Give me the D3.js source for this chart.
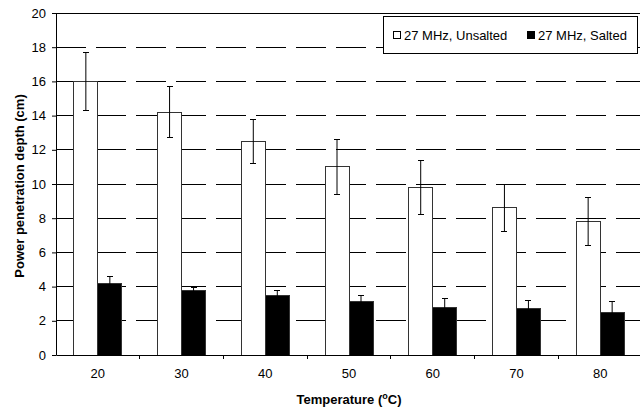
<!DOCTYPE html>
<html>
<head>
<meta charset="utf-8">
<script src="https://cdn.jsdelivr.net/npm/d3@7"></script>
<style>
    body { margin: 0; background: #fff; }
    svg { display: block; font-family: "Liberation Sans", Arial, sans-serif; }
</style>
</head>
<body>
<svg id="chart"></svg>
<script>
// valores
var temperatures = [20, 30, 40, 50, 60, 70, 80];
var seriesNames = ["27 MHz, Unsalted", "27 MHz, Salted"];
var unsalted = [16.0, 14.2, 12.5, 11.0, 9.8, 8.6, 7.8];
var unsaltedErr = [1.7, 1.5, 1.3, 1.6, 1.6, 1.4, 1.4];
var salted = [4.2, 3.8, 3.5, 3.1, 2.8, 2.7, 2.5];
var saltedErr = [0.4, 0.15, 0.3, 0.4, 0.5, 0.5, 0.6];
var yTicks = [0, 2, 4, 6, 8, 10, 12, 14, 16, 18, 20];

var width = 640, height = 409;
var margin = {left: 56, top: 13, bottom: 54};
var plotRight = 642;
var barW = 24;

var svg = d3.select("#chart")
    .attr("width", width)
    .attr("height", height);

var x = d3.scaleBand()
    .domain(temperatures)
    .range([margin.left, plotRight])
    .paddingInner(0)
    .paddingOuter(0);

var x1 = d3.scaleBand()
    .domain(seriesNames)
    .range([x.bandwidth() / 2 - barW, x.bandwidth() / 2 + barW]);

var y = d3.scaleLinear()
    .domain([0, 20])
    .range([height - margin.bottom, margin.top]);

// linhas de grade tracejadas
svg.append("g")
    .selectAll("line")
    .data(yTicks.filter(function(d) { return d > 0 && d < 20; }))
    .enter()
    .append("line")
    .attr("x1", margin.left)
    .attr("x2", plotRight)
    .attr("y1", function(d) { return y(d); })
    .attr("y2", function(d) { return y(d); })
    .attr("stroke", "#000")
    .attr("stroke-width", 1)
    .attr("stroke-dasharray", "30,10")
    .attr("shape-rendering", "crispEdges");

// borda superior
svg.append("line")
    .attr("x1", margin.left).attr("x2", plotRight)
    .attr("y1", y(20)).attr("y2", y(20))
    .attr("stroke", "#000")
    .attr("shape-rendering", "crispEdges");

var rows = temperatures.map(function(t, i) {
    return [
        {t: t, s: seriesNames[0], v: unsalted[i], e: unsaltedErr[i], fill: "#fff"},
        {t: t, s: seriesNames[1], v: salted[i], e: saltedErr[i], fill: "#000"}
    ];
});

var groups = svg.append("g")
    .selectAll("g")
    .data(rows)
    .enter()
    .append("g")
    .attr("transform", function(d) { return "translate(" + x(d[0].t) + ",0)"; });

groups.selectAll("rect")
    .data(function(d) { return d; })
    .enter()
    .append("rect")
    .attr("x", function(d) { return x1(d.s); })
    .attr("width", x1.bandwidth())
    .attr("y", function(d) { return y(d.v); })
    .attr("height", function(d) { return y(0) - y(d.v); })
    .attr("fill", function(d) { return d.fill; })
    .attr("stroke", "#333")
    .attr("stroke-width", 1)
    .attr("shape-rendering", "crispEdges");

// barras de erro
var err = groups.selectAll("g.err")
    .data(function(d) { return d; })
    .enter()
    .append("g")
    .attr("class", "err")
    .attr("transform", function(d) {
        return "translate(" + (x1(d.s) + x1.bandwidth() / 2) + ",0)";
    });

err.append("line")
    .attr("x1", 0).attr("x2", 0)
    .attr("y1", function(d) { return y(d.v + d.e); })
    .attr("y2", function(d) { return y(d.v - d.e); })
    .attr("stroke", "#000");

err.selectAll("line.cap")
    .data(function(d) { return [d.v + d.e, d.v - d.e]; })
    .enter()
    .append("line")
    .attr("class", "cap")
    .attr("x1", -3).attr("x2", 3)
    .attr("y1", function(d) { return y(d); })
    .attr("y2", function(d) { return y(d); })
    .attr("stroke", "#000")
    .attr("shape-rendering", "crispEdges");

// eixo y
var yAxis = svg.append("g")
    .attr("transform", "translate(" + margin.left + ",0)")
    .call(d3.axisLeft(y).tickValues(yTicks).tickSize(4).tickPadding(6).tickSizeOuter(0));
yAxis.selectAll("text").attr("font-size", 13).attr("fill", "#000").style("font-family", "Liberation Sans, Arial, sans-serif");
yAxis.selectAll("line, path").attr("stroke", "#000");

// eixo x
var xAxis = svg.append("g")
    .attr("transform", "translate(0," + y(0) + ")")
    .call(d3.axisBottom(x).tickSize(0).tickPadding(14).tickSizeOuter(0));
xAxis.selectAll("text").attr("font-size", 13).attr("fill", "#000").style("font-family", "Liberation Sans, Arial, sans-serif");
xAxis.select("path").attr("stroke", "#000");

svg.append("g")
    .selectAll("line")
    .data(temperatures.slice(1))
    .enter()
    .append("line")
    .attr("x1", function(d) { return x(d); })
    .attr("x2", function(d) { return x(d); })
    .attr("y1", y(0))
    .attr("y2", y(0) + 4)
    .attr("stroke", "#000")
    .attr("shape-rendering", "crispEdges");

// titulos
var xTitle = svg.append("text")
    .attr("x", (margin.left + plotRight) / 2)
    .attr("y", 404)
    .attr("text-anchor", "middle")
    .attr("font-size", 13)
    .attr("font-weight", "bold");
xTitle.append("tspan").text("Temperature (");
xTitle.append("tspan").attr("dy", -5).attr("font-size", 9).text("o");
xTitle.append("tspan").attr("dy", 5).text("C)");

svg.append("text")
    .attr("transform", "translate(24,186) rotate(-90)")
    .attr("text-anchor", "middle")
    .attr("font-size", 13)
    .attr("font-weight", "bold")
    .text("Power penetration depth (cm)");

// legenda
var legend = svg.append("g");
legend.append("rect")
    .attr("x", 383.5).attr("y", 16.5)
    .attr("width", 254).attr("height", 37)
    .attr("fill", "#fff")
    .attr("stroke", "#000");

var legendX = [393, 527];
var items = legend.selectAll("g")
    .data(seriesNames)
    .enter()
    .append("g")
    .attr("transform", function(d, i) { return "translate(" + legendX[i] + ",0)"; });

items.append("rect")
    .attr("x", 0.5).attr("y", 31.5)
    .attr("width", 7).attr("height", 7)
    .attr("fill", function(d, i) { return i == 0 ? "#fff" : "#000"; })
    .attr("stroke", "#000");

items.append("text")
    .attr("x", 11)
    .attr("y", 39.5)
    .attr("font-size", 13)
    .text(function(d) { return d; });
</script>
</body>
</html>
